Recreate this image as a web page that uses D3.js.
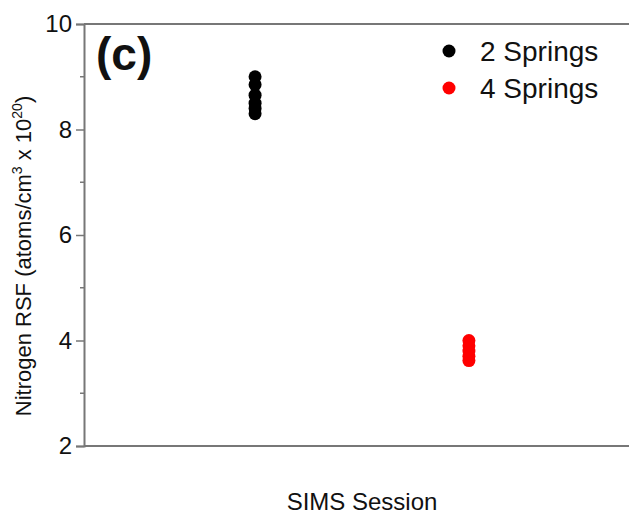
<!DOCTYPE html>
<html>
<head>
<meta charset="utf-8">
<script src="https://cdnjs.cloudflare.com/ajax/libs/d3/7.8.5/d3.min.js"></script>
<style>
body { margin: 0; background: #fff; }
text { font-family: "Liberation Sans", Arial, sans-serif; fill: #111; }
</style>
</head>
<body>
<div id="chart"></div>
<script>
/* -----------------------
data
------------------------- */

var sessions = [1, 2];
var springs2 = [9.0, 8.85, 8.65, 8.5, 8.4, 8.3];
var springs4 = [4.0, 3.9, 3.8, 3.7, 3.62];
var legendLabels = ["2 Springs", "4 Springs"];
var colors = ["#000000", "#ff0000"];
var yTicks = [2, 4, 6, 8, 10];

/* -----------------------
main variables
------------------------- */

var width = 629, height = 516;
var margin = {top: 24, right: -11, bottom: 70, left: 84};

var svg = d3.select("#chart").append("svg")
	.attr("width", width)
	.attr("height", height);

var x = d3.scaleLinear()
	.domain([0.2, 2.8])
	.range([margin.left, width - margin.right]);

var y = d3.scaleLinear()
	.domain([2, 10])
	.range([height - margin.bottom, margin.top]);

/* --- frame --- */

svg.append("line")
	.attr("x1", x(0.2)).attr("x2", x(2.8))
	.attr("y1", y(10)).attr("y2", y(10))
	.attr("stroke", "#777").attr("stroke-width", 2);

svg.append("line")
	.attr("x1", x(0.2)).attr("x2", x(2.8))
	.attr("y1", y(2)).attr("y2", y(2))
	.attr("stroke", "#777").attr("stroke-width", 2);

var yAxis = svg.append("g")
	.attr("transform", "translate(" + margin.left + ",0)")
	.call(d3.axisLeft(y).tickValues(yTicks).tickSize(8).tickPadding(4).tickFormat(d3.format("d")));

yAxis.select(".domain").attr("stroke", "#777").attr("stroke-width", 2);
yAxis.selectAll(".tick line").attr("stroke", "#777").attr("stroke-width", 1.5);
yAxis.selectAll(".tick text")
	.style("font-size", "24px")
	.style("font-family", "Liberation Sans, Arial, sans-serif")
	.attr("fill", "#111");

// minor ticks
svg.append("g").selectAll("line")
	.data(d3.range(3, 10, 2))
	.enter().append("line")
	.attr("x1", margin.left - 4).attr("x2", margin.left)
	.attr("y1", function(d) { return y(d); })
	.attr("y2", function(d) { return y(d); })
	.attr("stroke", "#777").attr("stroke-width", 1.5);

/* --- points --- */

var r = 6.5;

svg.append("g").selectAll("circle")
	.data(springs2)
	.enter().append("circle")
	.attr("cx", x(sessions[0]))
	.attr("cy", function(d) { return y(d); })
	.attr("r", r)
	.attr("fill", colors[0]);

svg.append("g").selectAll("circle")
	.data(springs4)
	.enter().append("circle")
	.attr("cx", x(sessions[1]))
	.attr("cy", function(d) { return y(d); })
	.attr("r", r)
	.attr("fill", colors[1]);

/* --- legend --- */

var legend = svg.append("g").selectAll("g")
	.data(legendLabels)
	.enter().append("g")
	.attr("transform", function(d, i) { return "translate(449," + (51 + i * 37) + ")"; });

legend.append("circle")
	.attr("r", r)
	.attr("fill", function(d, i) { return colors[i]; });

legend.append("text")
	.attr("x", 31)
	.attr("dy", "0.36em")
	.style("font-size", "28px")
	.text(function(d) { return d; });

/* --- labels --- */

svg.append("text")
	.attr("x", 96).attr("y", 70)
	.style("font-size", "46px")
	.style("font-weight", "bold")
	.text("(c)");

svg.append("text")
	.attr("x", 362).attr("y", 510)
	.attr("text-anchor", "middle")
	.style("font-size", "24px")
	.text("SIMS Session");

var yl = svg.append("text")
	.attr("transform", "translate(31," + 256 + ") rotate(-90)")
	.attr("text-anchor", "middle")
	.style("font-size", "22px");

yl.append("tspan").text("Nitrogen RSF (atoms/cm");
yl.append("tspan").attr("dy", -9).style("font-size", "14px").text("3");
yl.append("tspan").attr("dy", 9).text(" x 10");
yl.append("tspan").attr("dy", -9).style("font-size", "14px").text("20");
yl.append("tspan").attr("dy", 9).text(")");
</script>
</body>
</html>
